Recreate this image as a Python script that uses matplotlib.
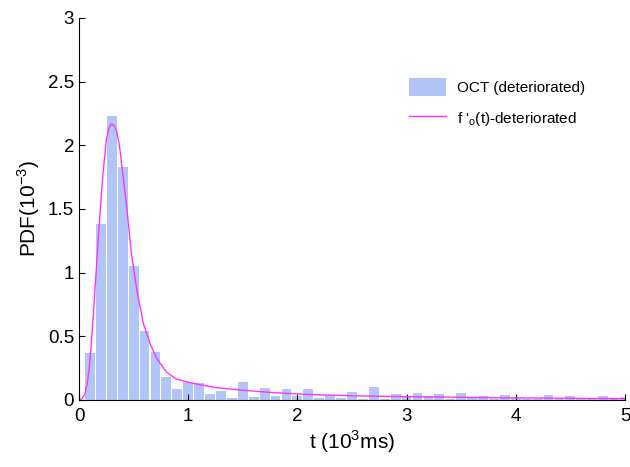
import matplotlib
matplotlib.use('Agg')
import matplotlib.pyplot as plt

plt.rcParams['font.family'] = ['Liberation Sans', 'DejaVu Sans']
plt.rcParams['mathtext.fontset'] = 'custom'
plt.rcParams['mathtext.rm'] = 'Liberation Sans'

# histogram bins (centres in 10^3 ms) and heights (10^-3)
bin_centers = [0.1, 0.2, 0.3, 0.4, 0.5, 0.6, 0.7, 0.8, 0.9, 1.0,
               1.1, 1.2, 1.3, 1.4, 1.5, 1.6, 1.7, 1.8, 1.9, 2.0,
               2.1, 2.2, 2.3, 2.4, 2.5, 2.6, 2.7, 2.8, 2.9, 3.0,
               3.1, 3.2, 3.3, 3.4, 3.5, 3.6, 3.7, 3.8, 3.9, 4.0,
               4.1, 4.2, 4.3, 4.4, 4.5, 4.6, 4.7, 4.8, 4.9, 5.0]
pdf_hist = [0.37, 1.38, 2.23, 1.83, 1.05, 0.54, 0.38, 0.18, 0.085, 0.14,
            0.13, 0.05, 0.073, 0.018, 0.14, 0.026, 0.094, 0.031, 0.086, 0.031,
            0.086, 0.018, 0.042, 0.018, 0.063, 0.01, 0.105, 0.01, 0.045, 0.026,
            0.055, 0.03, 0.05, 0.01, 0.055, 0.02, 0.03, 0.01, 0.042, 0.015,
            0.01, 0.01, 0.04, 0.01, 0.03, 0.01, 0.01, 0.03, 0.01, 0.02]

# fitted curve
t_fit = [0.0, 0.03, 0.055, 0.075, 0.095, 0.11, 0.13, 0.16, 0.19, 0.22,
         0.25, 0.275, 0.30, 0.325, 0.345, 0.37, 0.39, 0.44, 0.48, 0.53,
         0.59, 0.65, 0.71, 0.80, 0.89, 1.0, 1.08, 1.26, 1.47, 1.78,
         2.08, 2.45, 2.76, 3.2, 3.79, 4.4, 5.0]
pdf_fit = [0.0, 0.01, 0.05, 0.13, 0.26, 0.42, 0.65, 1.05, 1.44, 1.78,
           2.04, 2.14, 2.17, 2.15, 2.11, 2.0, 1.86, 1.49, 1.15, 0.86,
           0.60, 0.445, 0.33, 0.22, 0.165, 0.14, 0.125, 0.097, 0.079, 0.058,
           0.044, 0.034, 0.029, 0.024, 0.018, 0.014, 0.01]

fig = plt.figure(figsize=(6.3, 4.67), dpi=100)
ax = fig.add_axes([0.1254, 0.1435, 0.8666, 0.818])

bars = ax.bar(bin_centers, pdf_hist, width=0.09, color='#b1c5f7',
              edgecolor='none', label='OCT (deteriorated)')
line, = ax.plot(t_fit, pdf_fit, color='#ff33ff', linewidth=1.0,
                label="f '$_\\mathregular{o}$(t)-deteriorated")

ax.set_xlim(0, 5)
ax.set_ylim(0, 3)
ax.set_xticks([0, 1, 2, 3, 4, 5])
ax.set_yticks([0, 0.5, 1, 1.5, 2, 2.5, 3])
ax.set_yticklabels(['0', '0.5', '1', '1.5', '2', '2.5', '3'])
ax.spines['top'].set_visible(False)
ax.spines['right'].set_visible(False)
ax.tick_params(direction='in', length=4, labelsize=13.5, width=0.8)
ax.tick_params(axis='x', pad=6)

ax.set_xlabel('t (10$^\\mathregular{3}$ms)', fontsize=15, labelpad=2)
ax.set_ylabel('PDF(10$^\\mathregular{-3}$)', fontsize=15, labelpad=4)

ax.legend(handles=[bars, line], loc='upper left', bbox_to_anchor=(0.58, 0.88),
          frameon=False, fontsize=11, handlelength=2.4, handleheight=1.5,
          handletextpad=0.7, labelspacing=0.8)

fig.savefig('out.png', dpi=100)
